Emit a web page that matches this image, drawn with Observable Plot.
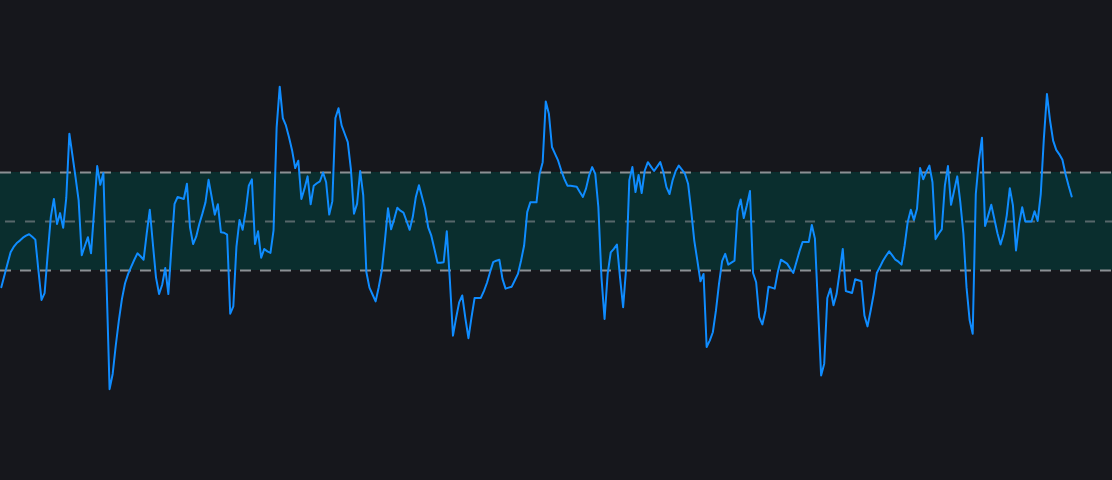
<!DOCTYPE html>
<html>
<head>
<meta charset="utf-8">
<script src="https://cdn.jsdelivr.net/npm/d3@7"></script>
<script src="https://cdn.jsdelivr.net/npm/@observablehq/plot@0.6"></script>
<style>
  html, body { margin: 0; padding: 0; background: #16171c; overflow: hidden; }
  #chart svg { display: block; }
</style>
</head>
<body>
<div id="chart"></div>
<script>
// Oscillator values (CCI-like, band at ±100, centre 0), one per bar
const values = [
  -134,-110,-86,-63,-52,-44,-39,-33,-29,-26,-31,-37,-100,-160,-146,-66,9,46,-5,17,
  -13,48,179,135,90,43,-69,-50,-32,-65,22,113,75,99,-120,-342,-311,-253,-202,-158,
  -126,-107,-92,-78,-65,-71,-78,-25,24,-46,-114,-148,-129,-95,-148,-52,36,50,48,46,
  77,-12,-46,-31,-5,16,39,85,50,14,35,-22,-23,-27,-188,-173,-52,3,-17,21,
  73,86,-46,-20,-74,-56,-61,-64,-18,192,275,211,196,172,145,109,124,46,67,92,
  35,73,78,82,100,80,14,41,211,231,196,179,162,107,16,36,103,53,-103,-135,
  -149,-163,-134,-100,-39,27,-16,5,28,22,18,1,-17,9,50,74,50,26,-12,-29,
  -56,-84,-84,-83,-20,-120,-233,-197,-165,-151,-197,-238,-195,-156,-156,-156,-142,-125,-103,-83,
  -80,-78,-117,-137,-135,-133,-120,-107,-80,-49,19,39,39,39,97,121,245,220,152,138,
  124,104,87,73,73,72,71,60,50,67,94,111,97,29,-114,-199,-107,-63,-56,-47,
  -114,-175,-93,84,111,60,95,58,104,121,112,103,112,121,101,70,56,84,103,114,
  106,97,77,22,-39,-80,-122,-107,-256,-243,-226,-182,-127,-81,-66,-88,-84,-80,22,45,
  7,33,62,-105,-124,-195,-210,-182,-133,-135,-137,-103,-78,-82,-86,-96,-105,-83,-61,-42,
  -42,-42,-7,-35,-175,-314,-290,-156,-137,-171,-148,-103,-56,-142,-144,-146,-118,-120,-122,-192,
  -214,-182,-148,-105,-93,-80,-70,-61,-69,-78,-82,-88,-49,-1,24,3,26,109,86,101,
  114,80,-36,-25,-16,73,113,34,63,92,39,-25,-134,-201,-229,56,124,171,-9,12,
  34,5,-24,-47,-25,12,68,33,-59,-5,29,0,0,0,21,1,56,169,260,206,
  165,146,137,126,97,73,51
];
const bandLow = -100;
const bandHigh = 100;
const levels = [100, 0, -100];

const data = values.map((v, i) => ({i, v}));
const xDomain = [-0.2586, 359.19];

const chart = Plot.plot({
  width: 1112,
  height: 480,
  margin: 0,
  style: {background: "#16171c", overflow: "visible"},
  x: {domain: xDomain, axis: null},
  y: {domain: [-528.4, 450.8], axis: null},
  marks: [
    Plot.rect([{x1: xDomain[0], x2: xDomain[1], y1: bandLow, y2: bandHigh}], {
      x1: "x1", x2: "x2", y1: "y1", y2: "y2", fill: "#0a2e2e"
    }),
    Plot.ruleY([bandHigh, bandLow], {stroke: "#8b9094", strokeWidth: 2, strokeDasharray: "11,9"}),
    Plot.ruleY([levels[1]], {stroke: "#56676a", strokeWidth: 2, strokeDasharray: "10,10", strokeDashoffset: -5}),
    Plot.line(data, {x: "i", y: "v", stroke: "#0f8cff", strokeWidth: 2, curve: "linear"})
  ]
});
document.getElementById("chart").appendChild(chart);
</script>
</body>
</html>
